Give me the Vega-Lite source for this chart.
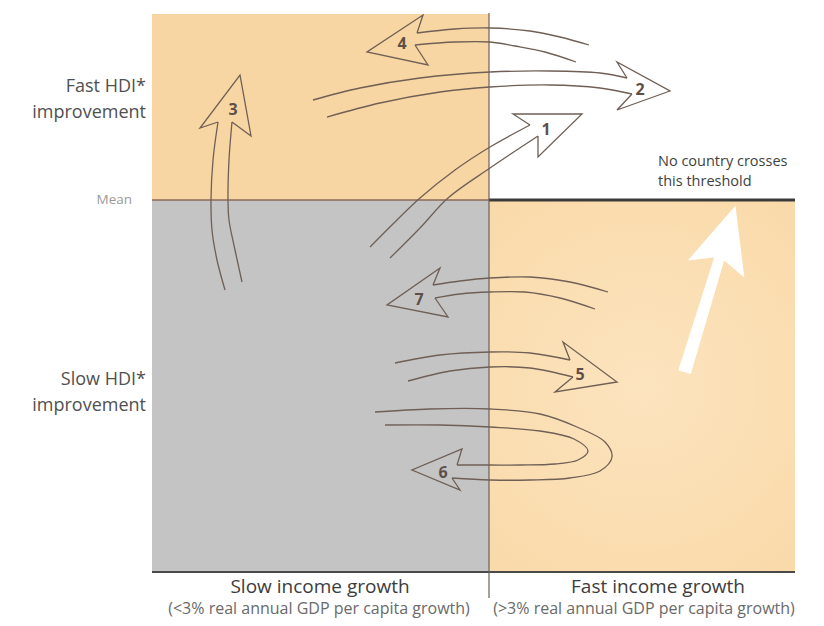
{
  "$schema": "https://vega.github.io/schema/vega-lite/v6.json",
  "width": 824,
  "height": 626,
  "autosize": {"type": "fit", "contains": "padding"},
  "padding": 0,
  "background": "white",
  "config": {"view": {"stroke": null}},
  "encoding": {
    "x": {"field": "x", "type": "quantitative", "scale": {"domain": [0, 824], "nice": false, "zero": false}, "axis": null},
    "y": {"field": "y", "type": "quantitative", "scale": {"domain": [0, 626], "nice": false, "zero": false, "reverse": true}, "axis": null}
  },
  "layer": [
    {
      "data": {"values": [
        {"zone": "Fast HDI, slow income", "x": 152, "x2": 489, "y": 14, "y2": 200},
        {"zone": "Slow HDI, slow income", "x": 152, "x2": 489, "y": 200, "y2": 572}
      ]},
      "mark": {"type": "rect"},
      "encoding": {
        "x2": {"field": "x2"},
        "y2": {"field": "y2"},
        "color": {"field": "zone", "type": "nominal", "legend": null,
          "scale": {"domain": ["Fast HDI, slow income", "Slow HDI, slow income"], "range": ["#F8D6A3", "#C4C4C5"]}}
      }
    },
    {
      "data": {"values": [{"zone": "Slow HDI, fast income", "x": 489, "x2": 795, "y": 200, "y2": 572}]},
      "mark": {"type": "rect",
        "fill": {"gradient": "radial", "x1": 0.5, "y1": 0.5, "x2": 0.5, "y2": 0.5, "r1": 0, "r2": 0.75,
          "stops": [{"offset": 0, "color": "#FCE4BF"}, {"offset": 1, "color": "#F9D8A5"}]}},
      "encoding": {"x2": {"field": "x2"}, "y2": {"field": "y2"}}
    },
    {
      "data": {"values": [{"x": 152, "x2": 489, "y": 200, "y2": 200}]},
      "mark": {"type": "rule", "color": "#8a6a58", "strokeWidth": 1.5},
      "encoding": {"x2": {"field": "x2"}, "y2": {"field": "y2"}}
    },
    {
      "data": {"values": [{"x": 489, "x2": 795, "y": 200, "y2": 200}]},
      "mark": {"type": "rule", "color": "#3a3a3a", "strokeWidth": 3},
      "encoding": {"x2": {"field": "x2"}, "y2": {"field": "y2"}}
    },
    {
      "data": {"values": [{"x": 152, "x2": 795, "y": 572, "y2": 572}]},
      "mark": {"type": "rule", "color": "#4a4a4a", "strokeWidth": 2.2},
      "encoding": {"x2": {"field": "x2"}, "y2": {"field": "y2"}}
    },
    {
      "data": {"values": [{"x": 489, "x2": 489, "y": 13, "y2": 598}]},
      "mark": {"type": "rule", "color": "#6b5f58", "strokeWidth": 1.2},
      "encoding": {"x2": {"field": "x2"}, "y2": {"field": "y2"}}
    },
    {
      "data": {"values": [{"x": 710, "y": 289}]},
      "mark": {"type": "point", "filled": true, "color": "white", "opacity": 1, "strokeWidth": 0, "angle": 17, "size": 30276,
        "shape": "M -0.075 1 L -0.06 -0.36 L -0.34 -0.24 L 0 -1 L 0.34 -0.24 L 0.06 -0.36 L 0.075 1 Z"}
    },
    {
      "data": {"values": [
        {"p": "1a", "s": 1, "x": 370, "y": 247}, {"p": "1a", "s": 2, "x": 395, "y": 222}, {"p": "1a", "s": 3, "x": 420, "y": 198}, {"p": "1a", "s": 4, "x": 455, "y": 170}, {"p": "1a", "s": 5, "x": 490, "y": 147}, {"p": "1a", "s": 6, "x": 530, "y": 125},
        {"p": "1b", "s": 1, "x": 390, "y": 258}, {"p": "1b", "s": 2, "x": 420, "y": 228}, {"p": "1b", "s": 3, "x": 448, "y": 198}, {"p": "1b", "s": 4, "x": 490, "y": 168}, {"p": "1b", "s": 5, "x": 538, "y": 136},
        {"p": "2a", "s": 1, "x": 313, "y": 100}, {"p": "2a", "s": 2, "x": 360, "y": 88}, {"p": "2a", "s": 3, "x": 420, "y": 78}, {"p": "2a", "s": 4, "x": 490, "y": 72}, {"p": "2a", "s": 5, "x": 550, "y": 71}, {"p": "2a", "s": 6, "x": 600, "y": 73}, {"p": "2a", "s": 7, "x": 627, "y": 78},
        {"p": "2b", "s": 1, "x": 327, "y": 117}, {"p": "2b", "s": 2, "x": 380, "y": 103}, {"p": "2b", "s": 3, "x": 440, "y": 92}, {"p": "2b", "s": 4, "x": 490, "y": 87}, {"p": "2b", "s": 5, "x": 550, "y": 85}, {"p": "2b", "s": 6, "x": 600, "y": 88}, {"p": "2b", "s": 7, "x": 632, "y": 94},
        {"p": "3a", "s": 1, "x": 225, "y": 290}, {"p": "3a", "s": 2, "x": 217, "y": 260}, {"p": "3a", "s": 3, "x": 212, "y": 230}, {"p": "3a", "s": 4, "x": 211, "y": 200}, {"p": "3a", "s": 5, "x": 213, "y": 160}, {"p": "3a", "s": 6, "x": 218, "y": 122},
        {"p": "3b", "s": 1, "x": 242, "y": 282}, {"p": "3b", "s": 2, "x": 235, "y": 250}, {"p": "3b", "s": 3, "x": 229, "y": 220}, {"p": "3b", "s": 4, "x": 228, "y": 200}, {"p": "3b", "s": 5, "x": 229, "y": 160}, {"p": "3b", "s": 6, "x": 232, "y": 122},
        {"p": "4a", "s": 1, "x": 589, "y": 45}, {"p": "4a", "s": 2, "x": 560, "y": 37}, {"p": "4a", "s": 3, "x": 530, "y": 31}, {"p": "4a", "s": 4, "x": 490, "y": 28}, {"p": "4a", "s": 5, "x": 455, "y": 29}, {"p": "4a", "s": 6, "x": 417, "y": 33},
        {"p": "4b", "s": 1, "x": 576, "y": 62}, {"p": "4b", "s": 2, "x": 545, "y": 52}, {"p": "4b", "s": 3, "x": 515, "y": 46}, {"p": "4b", "s": 4, "x": 490, "y": 42}, {"p": "4b", "s": 5, "x": 455, "y": 42}, {"p": "4b", "s": 6, "x": 415, "y": 45},
        {"p": "5a", "s": 1, "x": 395, "y": 363}, {"p": "5a", "s": 2, "x": 440, "y": 355}, {"p": "5a", "s": 3, "x": 490, "y": 352}, {"p": "5a", "s": 4, "x": 530, "y": 353}, {"p": "5a", "s": 5, "x": 570, "y": 360},
        {"p": "5b", "s": 1, "x": 408, "y": 381}, {"p": "5b", "s": 2, "x": 450, "y": 371}, {"p": "5b", "s": 3, "x": 490, "y": 367}, {"p": "5b", "s": 4, "x": 530, "y": 368}, {"p": "5b", "s": 5, "x": 573, "y": 377},
        {"p": "6a", "s": 1, "x": 375, "y": 412}, {"p": "6a", "s": 2, "x": 430, "y": 409}, {"p": "6a", "s": 3, "x": 490, "y": 409}, {"p": "6a", "s": 4, "x": 540, "y": 414}, {"p": "6a", "s": 5, "x": 577, "y": 427}, {"p": "6a", "s": 6, "x": 605, "y": 442}, {"p": "6a", "s": 7, "x": 612, "y": 457}, {"p": "6a", "s": 8, "x": 600, "y": 471}, {"p": "6a", "s": 9, "x": 570, "y": 478}, {"p": "6a", "s": 10, "x": 530, "y": 480}, {"p": "6a", "s": 11, "x": 490, "y": 480}, {"p": "6a", "s": 12, "x": 452, "y": 478},
        {"p": "6b", "s": 1, "x": 385, "y": 425}, {"p": "6b", "s": 2, "x": 440, "y": 425}, {"p": "6b", "s": 3, "x": 490, "y": 427}, {"p": "6b", "s": 4, "x": 540, "y": 431}, {"p": "6b", "s": 5, "x": 574, "y": 439}, {"p": "6b", "s": 6, "x": 588, "y": 451}, {"p": "6b", "s": 7, "x": 578, "y": 460}, {"p": "6b", "s": 8, "x": 555, "y": 464}, {"p": "6b", "s": 9, "x": 520, "y": 465}, {"p": "6b", "s": 10, "x": 490, "y": 465}, {"p": "6b", "s": 11, "x": 457, "y": 465},
        {"p": "7a", "s": 1, "x": 608, "y": 292}, {"p": "7a", "s": 2, "x": 570, "y": 282}, {"p": "7a", "s": 3, "x": 530, "y": 277}, {"p": "7a", "s": 4, "x": 490, "y": 278}, {"p": "7a", "s": 5, "x": 460, "y": 281}, {"p": "7a", "s": 6, "x": 433, "y": 285},
        {"p": "7b", "s": 1, "x": 595, "y": 309}, {"p": "7b", "s": 2, "x": 560, "y": 298}, {"p": "7b", "s": 3, "x": 525, "y": 292}, {"p": "7b", "s": 4, "x": 490, "y": 292}, {"p": "7b", "s": 5, "x": 460, "y": 294}, {"p": "7b", "s": 6, "x": 435, "y": 298}
      ]},
      "mark": {"type": "line", "interpolate": "catmull-rom", "color": "#6f5f55", "strokeWidth": 1.3},
      "encoding": {
        "detail": {"field": "p", "type": "nominal"},
        "order": {"field": "s", "type": "quantitative"}
      }
    },
    {
      "data": {"values": [
        {"p": "1", "s": 1, "x": 530, "y": 125}, {"p": "1", "s": 2, "x": 513, "y": 114}, {"p": "1", "s": 3, "x": 582, "y": 114}, {"p": "1", "s": 4, "x": 538, "y": 157}, {"p": "1", "s": 5, "x": 538, "y": 136},
        {"p": "2", "s": 1, "x": 627, "y": 78}, {"p": "2", "s": 2, "x": 617, "y": 62}, {"p": "2", "s": 3, "x": 670, "y": 91}, {"p": "2", "s": 4, "x": 617, "y": 110}, {"p": "2", "s": 5, "x": 632, "y": 94},
        {"p": "3", "s": 1, "x": 218, "y": 122}, {"p": "3", "s": 2, "x": 200, "y": 128}, {"p": "3", "s": 3, "x": 240, "y": 75}, {"p": "3", "s": 4, "x": 251, "y": 136}, {"p": "3", "s": 5, "x": 232, "y": 122},
        {"p": "4", "s": 1, "x": 417, "y": 33}, {"p": "4", "s": 2, "x": 423, "y": 15}, {"p": "4", "s": 3, "x": 367, "y": 52}, {"p": "4", "s": 4, "x": 428, "y": 65}, {"p": "4", "s": 5, "x": 415, "y": 45},
        {"p": "5", "s": 1, "x": 570, "y": 360}, {"p": "5", "s": 2, "x": 563, "y": 342}, {"p": "5", "s": 3, "x": 617, "y": 382}, {"p": "5", "s": 4, "x": 555, "y": 392}, {"p": "5", "s": 5, "x": 573, "y": 377},
        {"p": "6", "s": 1, "x": 457, "y": 465}, {"p": "6", "s": 2, "x": 462, "y": 449}, {"p": "6", "s": 3, "x": 412, "y": 470}, {"p": "6", "s": 4, "x": 460, "y": 490}, {"p": "6", "s": 5, "x": 452, "y": 478},
        {"p": "7", "s": 1, "x": 433, "y": 285}, {"p": "7", "s": 2, "x": 440, "y": 268}, {"p": "7", "s": 3, "x": 387, "y": 305}, {"p": "7", "s": 4, "x": 448, "y": 317}, {"p": "7", "s": 5, "x": 435, "y": 298}
      ]},
      "mark": {"type": "line", "interpolate": "linear", "color": "#6f5f55", "strokeWidth": 1.3, "strokeJoin": "miter"},
      "encoding": {
        "detail": {"field": "p", "type": "nominal"},
        "order": {"field": "s", "type": "quantitative"}
      }
    },
    {
      "data": {"values": [
        {"n": "1", "x": 546, "y": 130}, {"n": "2", "x": 640, "y": 90}, {"n": "3", "x": 233, "y": 110}, {"n": "4", "x": 402, "y": 44},
        {"n": "5", "x": 580, "y": 375}, {"n": "6", "x": 443, "y": 473}, {"n": "7", "x": 419, "y": 300}
      ]},
      "mark": {"type": "text", "font": "Open Sans", "fontSize": 16, "fontWeight": "bold", "color": "#5e5048", "align": "center", "baseline": "middle"},
      "encoding": {"text": {"field": "n"}}
    },
    {
      "data": {"values": [
        {"t": "Fast HDI*", "x": 146, "y": 87}, {"t": "improvement", "x": 146, "y": 113},
        {"t": "Slow HDI*", "x": 146, "y": 380}, {"t": "improvement", "x": 146, "y": 406}
      ]},
      "mark": {"type": "text", "font": "Open Sans", "fontSize": 18, "color": "#505050", "align": "right", "baseline": "middle"},
      "encoding": {"text": {"field": "t"}}
    },
    {
      "data": {"values": [{"t": "Mean", "x": 132, "y": 200}]},
      "mark": {"type": "text", "font": "Open Sans", "fontSize": 13.5, "color": "#9a9a9a", "align": "right", "baseline": "middle"},
      "encoding": {"text": {"field": "t"}}
    },
    {
      "data": {"values": [{"t": "Slow income growth", "x": 320, "y": 587}, {"t": "Fast income growth", "x": 658, "y": 587}]},
      "mark": {"type": "text", "font": "Open Sans", "fontSize": 19, "color": "#3c3c3c", "align": "center", "baseline": "middle"},
      "encoding": {"text": {"field": "t"}}
    },
    {
      "data": {"values": [{"t": "(<3% real annual GDP per capita growth)", "x": 319, "y": 609}, {"t": "(>3% real annual GDP per capita growth)", "x": 644, "y": 609}]},
      "mark": {"type": "text", "font": "Open Sans", "fontSize": 16, "color": "#6a6a6a", "align": "center", "baseline": "middle"},
      "encoding": {"text": {"field": "t"}}
    },
    {
      "data": {"values": [{"t": "No country crosses", "x": 658, "y": 162}, {"t": "this threshold", "x": 658, "y": 182}]},
      "mark": {"type": "text", "font": "Open Sans", "fontSize": 14.5, "color": "#3f3f3f", "align": "left", "baseline": "middle"},
      "encoding": {"text": {"field": "t"}}
    }
  ]
}
